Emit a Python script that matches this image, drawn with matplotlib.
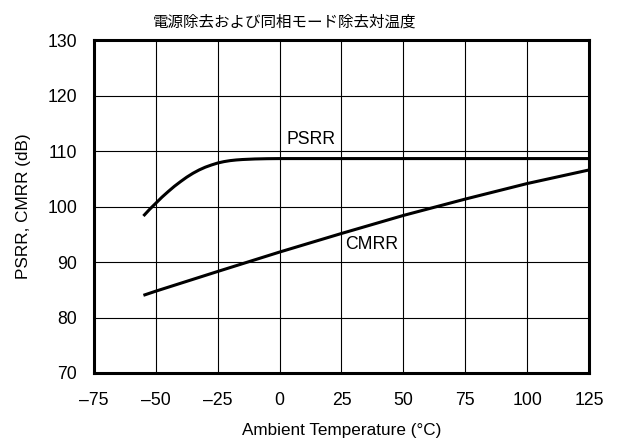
import matplotlib.pyplot as plt
import numpy as np

# PSRR / CMRR versus ambient temperature
temp_psrr = [-55, -52.5, -50, -47.5, -45, -42.5, -40, -37.5, -35, -32.5, -30, -27.5, -25, -22.5, -20, -17.5, -15, -10, -5, 0, 125]
psrr = [98.3, 99.5, 100.6, 101.7, 102.7, 103.65, 104.5, 105.3, 106.0, 106.6, 107.1, 107.5, 107.85, 108.1, 108.28, 108.4, 108.48, 108.58, 108.63, 108.65, 108.65]

temp_cmrr = [-55, -50, -25, 0, 25, 50, 75, 100, 125]
cmrr = [84.0, 84.75, 88.3, 91.8, 95.15, 98.4, 101.35, 104.15, 106.6]

x_ticks = [-75, -50, -25, 0, 25, 50, 75, 100, 125]
y_ticks = [70, 80, 90, 100, 110, 120, 130]

title = "電源除去および同相モード除去対温度"

plt.rcParams['font.family'] = ['Liberation Sans', 'Noto Sans CJK JP', 'DejaVu Sans']

fig = plt.figure(figsize=(6.26, 4.46), dpi=100)
ax = fig.add_axes([0.150, 0.1637, 0.791, 0.7463])

ax.plot(temp_psrr, psrr, color='black', lw=2.2, solid_capstyle='butt', solid_joinstyle='round')
ax.plot(temp_cmrr, cmrr, color='black', lw=2.2, solid_capstyle='butt', solid_joinstyle='round')

ax.text(12.5, 112.0, "PSRR", fontsize=12.7, ha='center', va='center')
ax.text(37.3, 93.1, "CMRR", fontsize=12.7, ha='center', va='center')

ax.set_xlim(-75, 125)
ax.set_ylim(70, 130)
ax.set_xticks(x_ticks)
ax.set_yticks(y_ticks)
ax.set_xticklabels([str(t).replace('-', '\u2013') for t in x_ticks])
ax.tick_params(length=0, labelsize=12.7)
ax.tick_params(axis='x', pad=14)
ax.tick_params(axis='y', pad=12)
ax.grid(True, color='black', lw=0.8)
ax.set_axisbelow(True)
for s in ax.spines.values():
    s.set_linewidth(2.2)

ax.set_xlabel("Ambient Temperature (\u00b0C)", fontsize=12.3, labelpad=10)
ax.set_ylabel("PSRR, CMRR (dB)", fontsize=12.3, labelpad=12)
ax.set_title(title, fontsize=11.2, family=['Noto Sans CJK JP'], x=0.386, pad=10)

fig.savefig("out.png", dpi=100)
